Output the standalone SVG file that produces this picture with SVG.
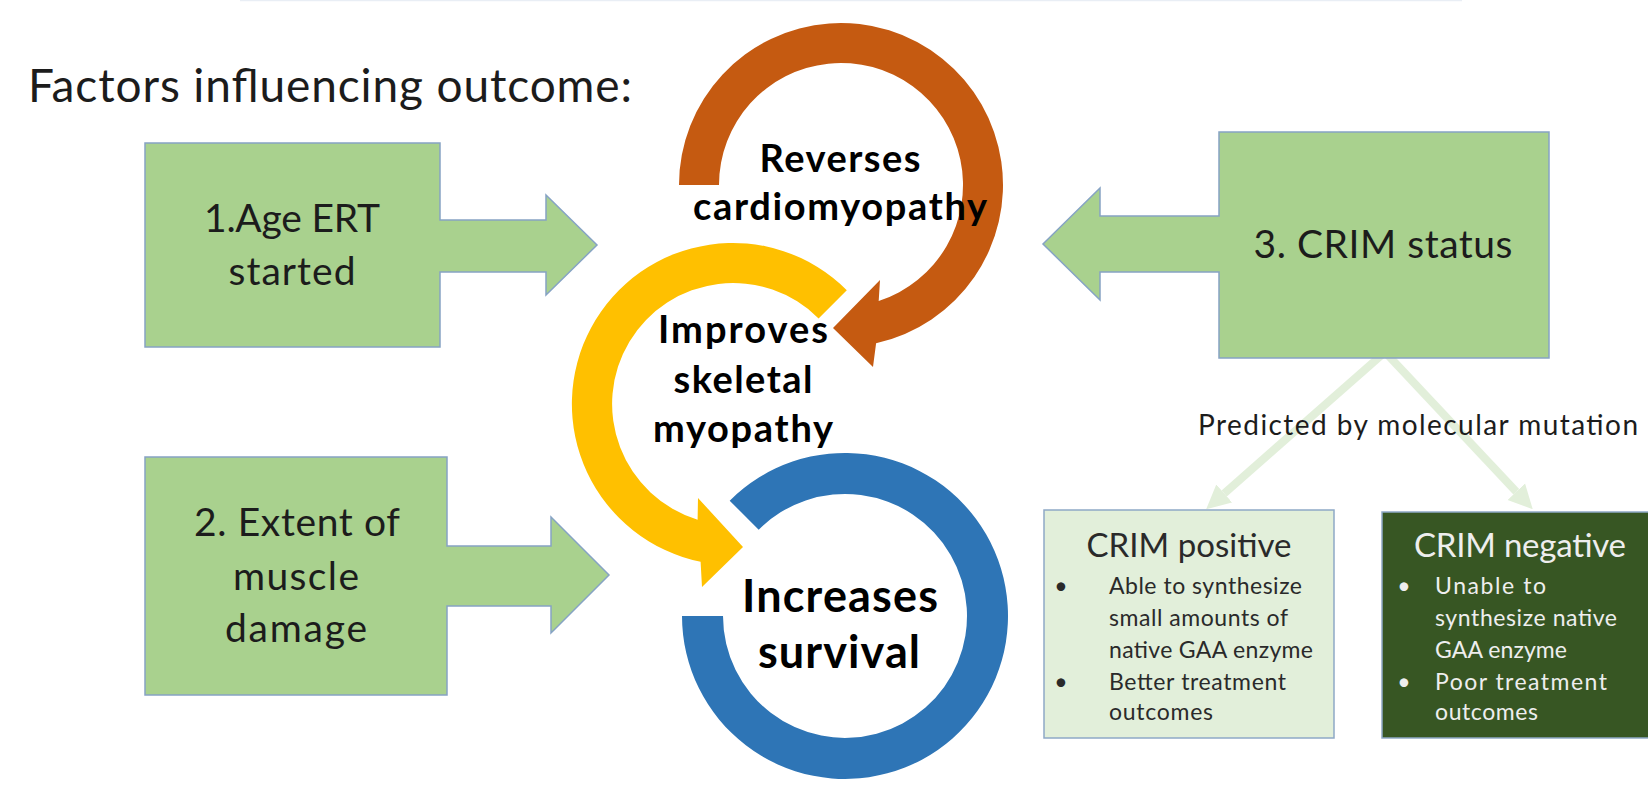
<svg xmlns="http://www.w3.org/2000/svg" width="1648" height="791" viewBox="0 0 1648 791">
  <defs>
    <style>
      text { font-family: Lato, "Liberation Sans", sans-serif; }
      .factor { fill: #a9d18e; stroke: #86a3c4; stroke-width: 1.5; }
      .factor-label { font-size: 39px; fill: #1c1c1c; text-anchor: middle; }
      .cycle-label { font-weight: bold; fill: #000; text-anchor: middle; }
      .title { font-size: 46px; fill: #1c1c1c; }
      .note { font-size: 28px; fill: #1c1c1c; }
      .crim-head { font-size: 33px; text-anchor: middle; }
      .crim-item { font-size: 23px; }
      .bullet { font-size: 23px; text-anchor: middle; }
      .link { stroke: #e2efda; stroke-width: 8; fill: none; marker-end: url(#head); }
    </style>
    <marker id="head" viewBox="0 0 10 10" refX="0" refY="5" markerWidth="3" markerHeight="3.2" orient="auto" markerUnits="strokeWidth">
      <path d="M0,0 L10,5 L0,10 Z" fill="#e2efda"/>
    </marker>
  </defs>

  <rect width="1648" height="791" fill="#ffffff"/>
  <line x1="240" y1="0.5" x2="1462" y2="0.5" stroke="#e9eef5" stroke-width="1.5"/>

  <text class="title" x="28" y="102" textLength="604">Factors influencing outcome:</text>

  <!-- CRIM status branches -->
  <g id="connectors">
    <line class="link" x1="1385" y1="352" x2="1224.2" y2="493.4"/>
    <line class="link" x1="1385" y1="352" x2="1516.3" y2="491.7"/>
  </g>

  <g id="factor-age">
    <path class="factor" d="M145,143 H440 V220 H546 V195 L597,245 L546,295 V272 H440 V347 H145 Z"/>
    <text class="factor-label" x="292" y="232" textLength="176">1.Age ERT</text>
    <text class="factor-label" x="292" y="285" textLength="127">started</text>
  </g>

  <g id="factor-damage">
    <path class="factor" d="M145,457 H447 V546 H551 V517 L609,575 L551,633 V606 H447 V695 H145 Z"/>
    <text class="factor-label" x="297" y="536" textLength="206">2. Extent of</text>
    <text class="factor-label" x="296" y="590" textLength="126">muscle</text>
    <text class="factor-label" x="296" y="642" textLength="142">damage</text>
  </g>

  <g id="factor-crim">
    <path class="factor" d="M1219,132 H1549 V358 H1219 V272 H1100 V300 L1043,244 L1100,188 V216 H1219 Z"/>
    <text class="factor-label" x="1383" y="258" textLength="259">3. CRIM status</text>
  </g>

  <g id="cycle-cardio">
    <path fill="#c55a11" d="M679,185 A162,162 0 1 1 876.1,343.2 L873,367 L833,328 L880,280 L878.7,301 A122,122 0 1 0 719,185 Z"/>
    <text class="cycle-label" x="840" y="172" font-size="38" textLength="161">Reverses</text>
    <text class="cycle-label" x="840" y="220" font-size="38" textLength="294">cardiomyopathy</text>
  </g>

  <g id="cycle-skeletal">
    <path fill="#ffc000" d="M846.8,290.2 A161,161 0 1 0 700.6,561.7 L702,587 L743,547 L698,498 L697.6,519.7 A121,121 0 1 1 818.6,318.4 Z"/>
    <text class="cycle-label" x="743" y="343" font-size="38" textLength="170">Improves</text>
    <text class="cycle-label" x="743" y="393" font-size="38" textLength="139">skeletal</text>
    <text class="cycle-label" x="743" y="442" font-size="38" textLength="180">myopathy</text>
  </g>

  <g id="cycle-survival">
    <path fill="#2e75b6" d="M729.7,500.7 A163,163 0 1 1 682,616 L723,616 A122,122 0 1 0 758.7,529.7 Z"/>
    <text class="cycle-label" x="840" y="612" font-size="45" textLength="196">Increases</text>
    <text class="cycle-label" x="839" y="668" font-size="45" textLength="162">survival</text>
  </g>

  <text class="note" x="1198" y="435" textLength="440">Predicted by molecular mutation</text>

  <g id="crim-positive" fill="#2a2a2a">
    <rect x="1044" y="510" width="290" height="228" fill="#e2efda" stroke="#8ea9c6" stroke-width="1.5"/>
    <text class="crim-head" x="1189" y="557" textLength="205">CRIM positive</text>
    <text class="bullet" x="1061" y="594">•</text>
    <text class="crim-item" x="1109" y="594" textLength="193">Able to synthesize</text>
    <text class="crim-item" x="1109" y="626" textLength="179">small amounts of</text>
    <text class="crim-item" x="1109" y="658" textLength="204">native GAA enzyme</text>
    <text class="bullet" x="1061" y="690">•</text>
    <text class="crim-item" x="1109" y="690" textLength="177">Better treatment</text>
    <text class="crim-item" x="1109" y="720" textLength="104">outcomes</text>
  </g>

  <g id="crim-negative" fill="#eeeeee">
    <rect x="1382" y="512" width="270" height="226" fill="#375623" stroke="#8ea9c6" stroke-width="1.5"/>
    <text class="crim-head" x="1520" y="557" textLength="212">CRIM negative</text>
    <text class="bullet" x="1404" y="594">•</text>
    <text class="crim-item" x="1435" y="594" textLength="111">Unable to</text>
    <text class="crim-item" x="1435" y="626" textLength="182">synthesize native</text>
    <text class="crim-item" x="1435" y="658" textLength="132">GAA enzyme</text>
    <text class="bullet" x="1404" y="690">•</text>
    <text class="crim-item" x="1435" y="690" textLength="172">Poor treatment</text>
    <text class="crim-item" x="1435" y="720" textLength="103">outcomes</text>
  </g>
</svg>
